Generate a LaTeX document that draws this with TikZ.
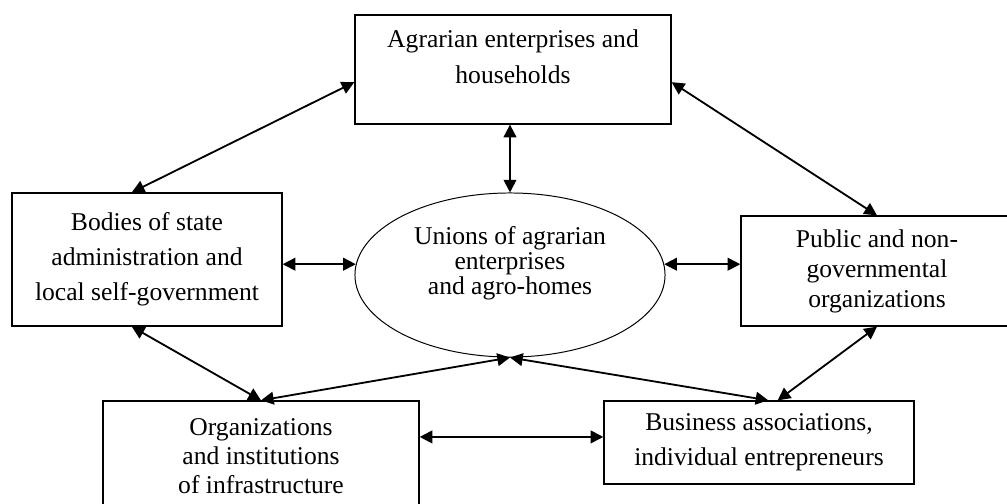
\documentclass[tikz,border=0pt]{standalone}
\usepackage{fontspec}
\setmainfont{Liberation Serif}
\usetikzlibrary{arrows.meta}
\usetikzlibrary{shapes}
\usetikzlibrary{calc}

\begin{document}
\begin{tikzpicture}[x=0.025cm, y=-0.025cm,
  unit/.style={draw, line width=0.9pt, rectangle, inner sep=0pt, align=center},
  union/.style={draw, line width=0.7pt, ellipse, inner sep=0pt, align=center},
  link/.style={<->, line width=1.3pt},
  >={Triangle[length=9pt, width=9pt]}]

\useasboundingbox (0,0) rectangle (1007,504);

\node[unit, minimum width=7.9cm, minimum height=2.725cm, font=\fontsize{18.2}{25.6}\selectfont] (agr) at (513,69.5) {Agrarian enterprises and\\households\\[-7pt]\mbox{}};
\node[unit, minimum width=6.75cm, minimum height=3.325cm, font=\fontsize{18.2}{24.9}\selectfont] (state) at (147,259.5) {Bodies of state\\administration and\\local self-government};
\node[union, minimum width=7.75cm, minimum height=4.1cm, font=\fontsize{18.2}{17.8}\selectfont] (union) at (510,275) {Unions of agrarian\\enterprises\\and agro-homes\\[3pt]\mbox{}};
\node[unit, minimum width=6.8cm, minimum height=2.75cm, font=\fontsize{18.2}{21.3}\selectfont] (public) at (877,271) {Public and non-\\governmental\\organizations};
\node[unit, minimum width=7.9cm, minimum height=2.75cm, font=\fontsize{18.2}{20.6}\selectfont] (infra) at (261,456) {Organizations\\and institutions\\of infrastructure};
\node[unit, minimum width=7.75cm, minimum height=2.075cm, font=\fontsize{18.2}{24.9}\selectfont] (business) at (759,442.5) {Business associations,\\individual entrepreneurs};

\coordinate (bizw) at ($(business.south west)!0.566!(business.north west)$);

\draw[link] ($(agr.south west)!0.385!(agr.north west)$) -- ($(state.north west)!0.444!(state.north east)$);
\draw[link] ($(agr.south east)!0.385!(agr.north east)$) -- (public.north);
\draw[link] (agr.south -| union.north) -- (union.north);
\draw[link] (state.east |- union.176) -- (union.176);
\draw[link] (union.4) -- (union.4 -| public.west);
\draw[link] ($(state.south west)!0.444!(state.south east)$) -- (infra.north);
\draw[link] (union.south) -- (infra.north);
\draw[link] (union.south) -- ($(business.north west)!0.53!(business.north east)$);
\draw[link] (public.south) -- ($(business.north west)!0.56!(business.north east)$);
\draw[link] (infra.east |- bizw) -- (bizw);
\end{tikzpicture}
\end{document}
